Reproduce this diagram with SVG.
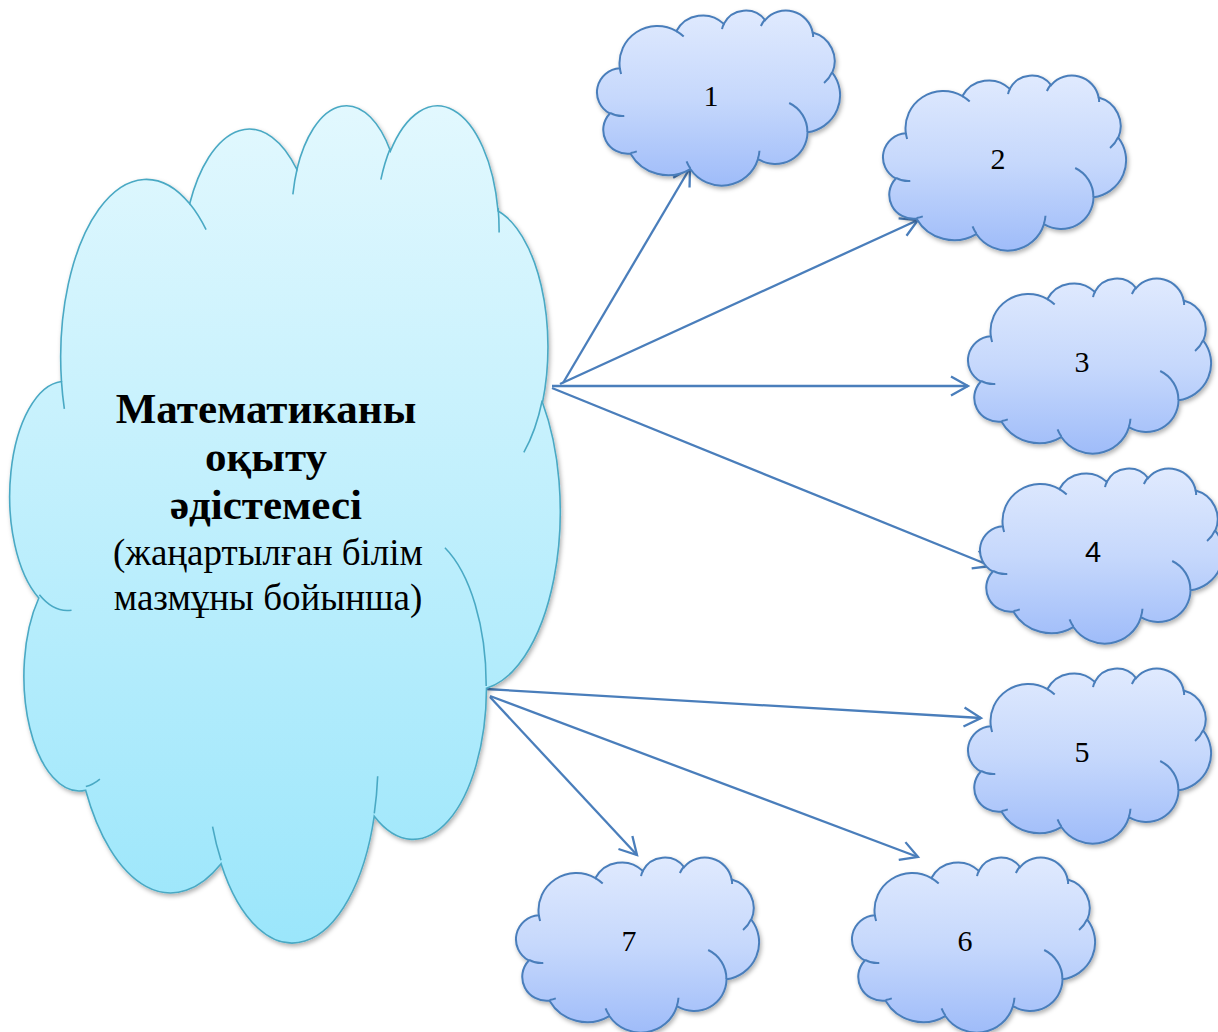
<svg xmlns="http://www.w3.org/2000/svg" xmlns:xlink="http://www.w3.org/1999/xlink" width="1218" height="1032" viewBox="0 0 1218 1032">
  <style>
    .body-big { fill: url(#gradBig); stroke: #4aa9c4; stroke-width: 1.6; }
    .body-small { fill: url(#gradSmall); stroke: #4a7ebb; stroke-width: 2; }
    .lines-big { fill: none; stroke: #4aa9c4; stroke-width: 1.6; }
    .lines-small { fill: none; stroke: #4a7ebb; stroke-width: 2; }
    .title { font-family: "Liberation Serif", "DejaVu Serif", serif; font-size: 43px; font-weight: bold; text-anchor: middle; fill: #000; }
    .sub { font-family: "Liberation Serif", "DejaVu Serif", serif; font-size: 37px; text-anchor: middle; fill: #000; }
    .num { font-family: "Liberation Serif", "DejaVu Serif", serif; font-size: 30px; text-anchor: middle; fill: #000; }
    .num-sans { font-family: "Liberation Sans", "DejaVu Sans", sans-serif; font-size: 29px; text-anchor: middle; fill: #000; }
    .arrow { fill: none; stroke: #4a7ebb; stroke-width: 2.3; marker-end: url(#openArrow); }
  </style>
  <defs>
    <linearGradient id="gradBig" x1="0" y1="0" x2="0" y2="1">
      <stop offset="0" stop-color="#e2f8fe"/>
      <stop offset="1" stop-color="#9be6fb"/>
    </linearGradient>
    <linearGradient id="gradSmall" x1="0" y1="0" x2="0" y2="1">
      <stop offset="0" stop-color="#e0eafe"/>
      <stop offset="0.5" stop-color="#c6d8fc"/>
      <stop offset="1" stop-color="#9fbcf9"/>
    </linearGradient>
    <filter id="shadow" x="-10%" y="-10%" width="125%" height="130%">
      <feDropShadow dx="1.5" dy="2.5" stdDeviation="2" flood-color="#000" flood-opacity="0.3"/>
    </filter>
    <!-- cloud outline in a 43200 x 43200 unit box -->
    <path id="cloudBody" vector-effect="non-scaling-stroke" d="M3900 14370 A6753 9190 0 0 1 14005 5202 A5333 7267 0 0 1 22456 3432 A4365 5945 0 0 1 29833 2481 A4857 6595 0 0 1 38318 5576 A5333 7273 0 0 1 41819 15460 A6775 9220 0 0 1 37405 30203 A5785 7867 0 0 1 28556 36813 A6752 9215 0 0 1 16481 39264 A7720 10543 0 0 1 5805 35469 A4360 5918 0 0 1 2114 25548 A4345 5945 0 0 1 3900 14370 Z"/>
    <!-- inner puff seams of the cloud -->
    <path id="cloudLines" vector-effect="non-scaling-stroke" d="M4693 26177 A4345 5945 0 0 1 2160 25380 M6928 34899 A4360 5918 0 0 1 5820 35281 M16478 39090 A6752 9215 0 0 1 15810 37350 M28827 34751 A6752 9215 0 0 1 28560 36660 M34129 22954 A5785 7867 0 0 1 37380 30090 M41798 15354 A5333 7273 0 0 1 40350 18030 M38324 5426 A4857 6595 0 0 1 38400 6690 M29078 3952 A4857 6595 0 0 1 29820 2341 M22141 4720 A4365 5945 0 0 1 22500 3330 M14000 5192 A6753 9190 0 0 1 15300 6540 M4127 15789 A6753 9190 0 0 1 3900 14370"/>
    <marker id="openArrow" markerUnits="userSpaceOnUse" markerWidth="26" markerHeight="26" viewBox="-21 -13 26 26" refX="0" refY="0" orient="auto" overflow="visible">
      <path d="M -17 -9.5 L 0 0 L -17 9.5" fill="none" stroke="#4a7ebb" stroke-width="2.3" stroke-linejoin="miter"/>
    </marker>
  </defs>

  <rect width="1218" height="1032" fill="#ffffff"/>

  <!-- connectors -->
  <g id="connectors">
    <line class="arrow" x1="563" y1="383" x2="690" y2="168"/>
    <line class="arrow" x1="560" y1="384" x2="918" y2="220"/>
    <line class="arrow" x1="552" y1="386" x2="968" y2="386"/>
    <line class="arrow" x1="552" y1="388" x2="991" y2="566"/>
    <line class="arrow" x1="486" y1="689" x2="981" y2="718"/>
    <line class="arrow" x1="490" y1="696" x2="918" y2="857"/>
    <line class="arrow" x1="490" y1="697" x2="637" y2="855"/>
  </g>

  <!-- central cloud -->
  <g id="node-main">
    <g filter="url(#shadow)">
      <use xlink:href="#cloudBody" class="body-big" transform="translate(12 103) scale(0.0126852 0.019375)"/>
      <use xlink:href="#cloudLines" class="lines-big" transform="translate(12 103) scale(0.0126852 0.019375)"/>
    </g>
    <text class="title" x="266" y="423">Математиканы</text>
    <text class="title" x="266" y="471">оқыту</text>
    <text class="title" x="266" y="519">әдістемесі</text>
    <text class="sub" x="268" y="565">(жаңартылған білім</text>
    <text class="sub" x="268" y="610">мазмұны бойынша)</text>
  </g>

  <g id="node-1">
    <g filter="url(#shadow)">
      <use xlink:href="#cloudBody" class="body-small" transform="translate(598 10) scale(0.00560185 0.00405093)"/>
      <use xlink:href="#cloudLines" class="lines-small" transform="translate(598 10) scale(0.00560185 0.00405093)"/>
    </g>
    <text class="num" x="711" y="106">1</text>
  </g>

  <g id="node-2">
    <g filter="url(#shadow)">
      <use xlink:href="#cloudBody" class="body-small" transform="translate(884 75) scale(0.00560185 0.00405093)"/>
      <use xlink:href="#cloudLines" class="lines-small" transform="translate(884 75) scale(0.00560185 0.00405093)"/>
    </g>
    <text class="num" x="998" y="169">2</text>
  </g>

  <g id="node-3">
    <g filter="url(#shadow)">
      <use xlink:href="#cloudBody" class="body-small" transform="translate(969 278) scale(0.00560185 0.00405093)"/>
      <use xlink:href="#cloudLines" class="lines-small" transform="translate(969 278) scale(0.00560185 0.00405093)"/>
    </g>
    <text class="num" x="1082" y="372">3</text>
  </g>

  <g id="node-4">
    <g filter="url(#shadow)">
      <use xlink:href="#cloudBody" class="body-small" transform="translate(981 468) scale(0.00560185 0.00405093)"/>
      <use xlink:href="#cloudLines" class="lines-small" transform="translate(981 468) scale(0.00560185 0.00405093)"/>
    </g>
    <text class="num-sans" x="1093" y="562">4</text>
  </g>

  <g id="node-5">
    <g filter="url(#shadow)">
      <use xlink:href="#cloudBody" class="body-small" transform="translate(969 668) scale(0.00560185 0.00405093)"/>
      <use xlink:href="#cloudLines" class="lines-small" transform="translate(969 668) scale(0.00560185 0.00405093)"/>
    </g>
    <text class="num" x="1082" y="762">5</text>
  </g>

  <g id="node-6">
    <g filter="url(#shadow)">
      <use xlink:href="#cloudBody" class="body-small" transform="translate(853 857) scale(0.00560185 0.00405093)"/>
      <use xlink:href="#cloudLines" class="lines-small" transform="translate(853 857) scale(0.00560185 0.00405093)"/>
    </g>
    <text class="num" x="965" y="951">6</text>
  </g>

  <g id="node-7">
    <g filter="url(#shadow)">
      <use xlink:href="#cloudBody" class="body-small" transform="translate(517 857) scale(0.00560185 0.00405093)"/>
      <use xlink:href="#cloudLines" class="lines-small" transform="translate(517 857) scale(0.00560185 0.00405093)"/>
    </g>
    <text class="num" x="629" y="951">7</text>
  </g>
</svg>
